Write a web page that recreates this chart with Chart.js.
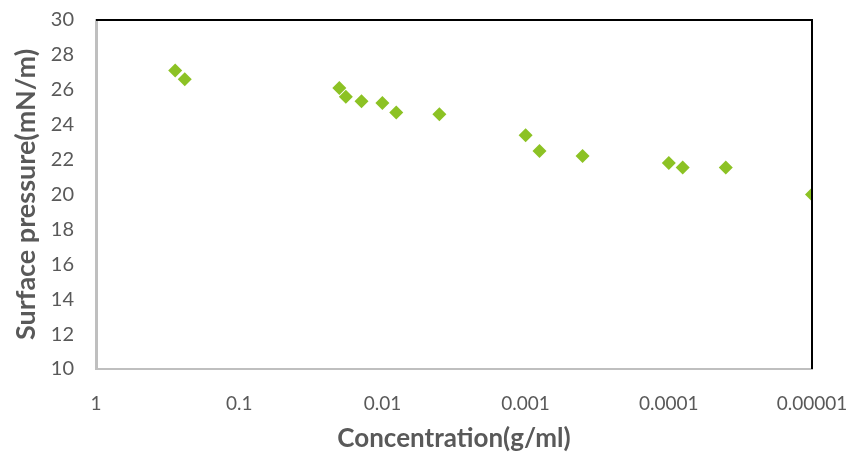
<!DOCTYPE html>
<html>
<head>
<meta charset="utf-8">
<script src="https://cdn.jsdelivr.net/npm/chart.js@4/dist/chart.umd.min.js"></script>
<style>
html,body{margin:0;padding:0;background:#fff;}
#wrap{width:854px;height:454px;position:relative;}
</style>
</head>
<body>
<div id="wrap"><canvas id="c" width="854" height="454"></canvas></div>
<script>
const concentrations = [0.28, 0.24, 0.02, 0.018, 0.014, 0.01, 0.008, 0.004, 0.001, 0.0008, 0.0004, 0.0001, 0.00008, 0.00004, 0.00001];
const surfacePressure = [27.1, 26.6, 26.1, 25.6, 25.35, 25.25, 24.7, 24.6, 23.4, 22.5, 22.2, 21.8, 21.55, 21.55, 20.0];
const xTickValues = [1, 0.1, 0.01, 0.001, 0.0001, 0.00001];
const xTickLabels = ["1", "0.1", "0.01", "0.001", "0.0001", "0.00001"];
const yTickValues = [10, 12, 14, 16, 18, 20, 22, 24, 26, 28, 30];

const points = concentrations.map((c, i) => ({x: c, y: surfacePressure[i]}));
const FONT = "Lato, 'Open Sans', sans-serif";
const GRAY = '#595959';

const framePlugin = {
  id: 'frame',
  afterDatasetsDraw(chart) {
    const {ctx, chartArea: a} = chart;
    ctx.save();
    ctx.lineWidth = 2;
    ctx.strokeStyle = '#000';
    ctx.beginPath();
    ctx.moveTo(a.left, a.top);
    ctx.lineTo(a.right, a.top);
    ctx.lineTo(a.right, a.bottom);
    ctx.stroke();
    ctx.restore();
  }
};

new Chart(document.getElementById('c'), {
  type: 'scatter',
  data: {
    datasets: [{
      data: points,
      pointStyle: 'rectRot',
      radius: 7,
      hoverRadius: 7,
      backgroundColor: '#8cc224',
      borderColor: '#8cc224',
      borderWidth: 0
    }]
  },
  options: {
    responsive: false,
    animation: false,
    layout: {padding: {left: 0, right: 42, top: 20, bottom: 0}},
    plugins: {legend: {display: false}, tooltip: {enabled: false}},
    scales: {
      x: {
        type: 'logarithmic',
        reverse: true,
        min: 0.00001,
        max: 1,
        afterBuildTicks(scale) { scale.ticks = xTickValues.map(v => ({value: v})); },
        afterFit(scale) { scale.height = 85; scale.paddingLeft = 0; scale.paddingRight = 0; },
        grid: {display: false, drawTicks: false},
        border: {display: true, color: '#bfbfbf', width: 2},
        ticks: {
          autoSkip: false,
          maxRotation: 0,
          padding: 23,
          color: GRAY,
          font: {family: FONT, size: 19},
          callback(v) { const i = xTickValues.findIndex(t => Math.abs(Math.log10(t) - Math.log10(v)) < 1e-6); return i >= 0 ? xTickLabels[i] : ''; }
        },
        title: {display: true, text: 'Concentration(g/ml)', color: GRAY, font: {family: FONT, size: 26, weight: 'bold'}, padding: {top: 0, bottom: 0}}
      },
      y: {
        min: 10,
        max: 30,
        afterBuildTicks(scale) { scale.ticks = yTickValues.map(v => ({value: v})); },
        afterFit(scale) { scale.width = 96; scale.paddingTop = 0; scale.paddingBottom = 0; },
        grid: {display: false, drawTicks: false},
        border: {display: true, color: '#bfbfbf', width: 3},
        ticks: {
          padding: 22,
          color: GRAY,
          font: {family: FONT, size: 20}
        },
        title: {display: true, text: 'Surface pressure(mN/m)', color: GRAY, font: {family: FONT, size: 27, weight: 'bold'}, padding: {top: 10, bottom: 4}}
      }
    }
  },
  plugins: [framePlugin]
});
</script>
</body>
</html>
